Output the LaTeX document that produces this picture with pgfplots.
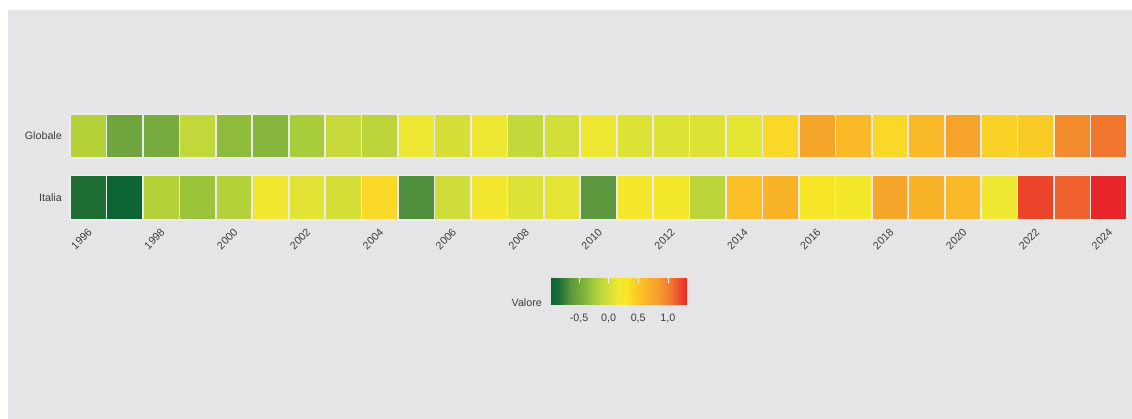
\documentclass[border=0pt]{standalone}
\usepackage{pgfplots}
\pgfplotsset{compat=1.18}
\usepackage{pgfplotstable}
\usepackage{fontspec}
\setmainfont{Liberation Sans}
\definecolor{bg}{HTML}{E5E5E7}
\definecolor{txt}{HTML}{3C3C3C}
\definecolor{tileedge}{HTML}{EBEBEC}
\pgfdeclareplotmark{tile}{%
  \pgfpathrectangle{\pgfpoint{-18.2pt}{-22.2pt}}{\pgfpoint{36.4pt}{44.4pt}}%
  \pgfusepathqfillstroke}
\pgfplotstableread{
year v
1996 -0.17
1997 -0.53
1998 -0.48
1999 -0.11
2000 -0.36
2001 -0.40
2002 -0.23
2003 -0.08
2004 -0.13
2005 0.14
2006 0.00
2007 0.14
2008 -0.10
2009 -0.02
2010 0.14
2011 0.04
2012 0.04
2013 0.05
2014 0.09
2015 0.38
2016 0.78
2017 0.60
2018 0.38
2019 0.60
2020 0.80
2021 0.42
2022 0.46
2023 0.93
2024 1.05
}\globale
\pgfplotstableread{
year v
1996 -0.85
1997 -0.97
1998 -0.17
1999 -0.30
2000 -0.17
2001 0.18
2002 0.07
2003 0.00
2004 0.38
2005 -0.68
2006 -0.04
2007 0.20
2008 0.04
2009 0.08
2010 -0.64
2011 0.25
2012 0.22
2013 -0.13
2014 0.55
2015 0.65
2016 0.30
2017 0.22
2018 0.78
2019 0.65
2020 0.60
2021 0.14
2022 1.22
2023 1.12
2024 1.32
}\italia
\pgfplotsset{
  colormap={valore}{
    rgb255(0cm)=(10,99,52);
    rgb255(1.3cm)=(31,110,54);
    rgb255(3.3cm)=(90,150,62);
    rgb255(5.3cm)=(125,175,63);
    rgb255(7.3cm)=(165,203,58);
    rgb255(9.3cm)=(205,220,58);
    rgb255(11.3cm)=(240,233,50);
    rgb255(12.8cm)=(248,230,40);
    rgb255(14.8cm)=(251,196,38);
    rgb255(17.8cm)=(246,163,43);
    rgb255(20.3cm)=(241,118,46);
    rgb255(23cm)=(232,38,42)
  }
}
\begin{document}
\begin{tikzpicture}[x=1pt,y=1pt]
\useasboundingbox (0,0) rectangle (1132,419);
\fill[white] (0,0) rectangle (1132,419);
\fill[bg] (8,0) rectangle (1132,409);
\begin{axis}[
  at={(70pt,198.1pt)}, anchor=south west,
  scale only axis, width=1057pt, height=108.24pt,
  xmin=1995.5, xmax=2024.5, ymin=-0.38, ymax=1.38,
  axis line style={draw=none}, tick style={draw=none},
  xtick={1996,1998,...,2024},
  ytick={0,1}, yticklabels={Italia,Globale},
  /pgf/number format/.cd, 1000 sep={}, assume math mode=true, /pgfplots/.cd,
  ticklabel style={font=\fontsize{10.7}{13}\selectfont, text=txt},
  xticklabel style={xshift=2.5pt, yshift=-9pt, rotate=45, anchor=east, inner sep=1pt},
  yticklabel style={anchor=east, inner sep=0pt, xshift=-8pt},
  colormap name=valore,
  point meta min=-0.98, point meta max=1.32,
]
\addplot[scatter, only marks, mark=tile, line width=1.6pt, point meta=explicit,
  scatter/use mapped color={draw=tileedge, fill=mapped color}]
  table[x=year, y expr=1, meta=v] {\globale};
\addplot[scatter, only marks, mark=tile, line width=1.6pt, point meta=explicit,
  scatter/use mapped color={draw=tileedge, fill=mapped color}]
  table[x=year, y expr=0, meta=v] {\italia};
\end{axis}
% colour scale
\begin{axis}[
  at={(550.7pt,114pt)}, anchor=south west,
  scale only axis, width=136pt, height=26.7pt,
  xmin=-0.98, xmax=1.32, ymin=0, ymax=1,
  axis line style={draw=none},
  view={0}{90},
  colormap name=valore,
  point meta min=-0.98, point meta max=1.32,
  ytick=\empty,
  xtick={-0.5,0,0.5,1},
  xticklabels={{-0,5},{0,0},{0,5},{1,0}},
  xtick pos=right, xticklabel pos=left,
  xtick align=inside,
  major tick length=5pt,
  xtick style={draw=white, line width=0.5pt},
  xticklabel style={font=\fontsize{10.7}{13}\selectfont, text=txt, anchor=north, inner sep=1pt},
  xticklabel shift=8pt,
  axis on top,
]
\addplot[surf, shader=interp, point meta=x] coordinates {
(-0.98,0) (1.32,0)

(-0.98,1) (1.32,1)
};
\end{axis}
\node[anchor=east, text=txt, font=\fontsize{10.7}{13}\selectfont, inner sep=0pt] at (542,116.7) {Valore};
\end{tikzpicture}
\end{document}
